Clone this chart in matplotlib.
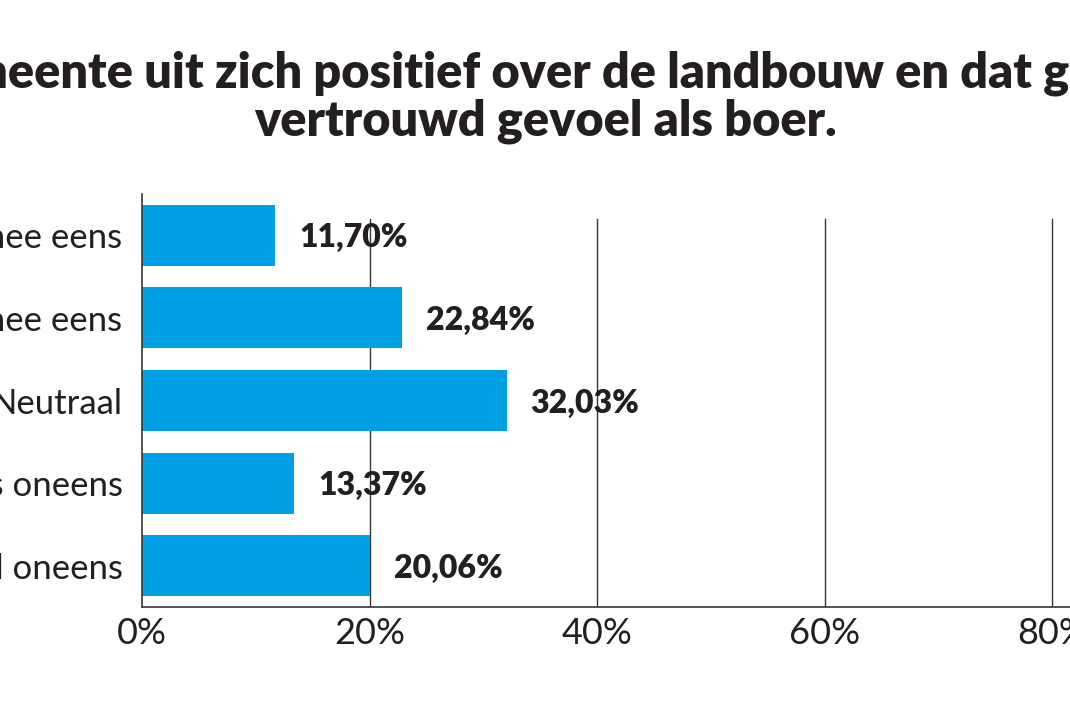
import matplotlib
matplotlib.use("Agg")
import matplotlib.pyplot as plt

# data (top to bottom)
categories = ["Helemaal mee eens", "Enigszins mee eens", "Neutraal",
              "Enigszins oneens", "Helemaal oneens"]
values = [11.70, 22.84, 32.03, 13.37, 20.06]
xticks = [0, 20, 40, 60, 80, 100]
title = ("De gemeente uit zich positief over de landbouw en dat geeft een\n"
         "vertrouwd gevoel als boer.")

TXT = "#231f20"
BAR = "#00a1e4"
LINE = "#3b3533"

fig = plt.figure(figsize=(10.70, 7.13), dpi=100)
# axes run off the right edge of the canvas, as in the cropped original
ax = fig.add_axes([142 / 1070, 106 / 713, 1138 / 1070, 413 / 713])

y = list(range(len(categories)))
ax.barh(y, values, height=0.74, color=BAR, zorder=2)

for xt in xticks[1:]:
    ax.axvline(xt, ymin=0, ymax=0.94, color=LINE, lw=1.0, zorder=1)

for yi, v in zip(y, values):
    ax.text(v + 2.1, yi + 0.03, f"{v:.2f}%".replace(".", ","),
            va="center", ha="left", fontsize=23, fontweight="heavy",
            family="Lato", color=TXT, zorder=3)

ax.set_xlim(0, 100)
ax.set_ylim(len(categories) - 0.5, -0.5)
ax.set_yticks(y)
ax.set_yticklabels(categories, fontsize=25, family="Lato", color=TXT)
ax.set_xticks(xticks)
ax.set_xticklabels([f"{t}%" for t in xticks], fontsize=26, family="Lato", color=TXT)
ax.tick_params(axis="both", length=0)
ax.tick_params(axis="y", pad=14)
ax.tick_params(axis="x", pad=7)

for s in ["top", "right"]:
    ax.spines[s].set_visible(False)
for s in ["left", "bottom"]:
    ax.spines[s].set_color(LINE)
    ax.spines[s].set_linewidth(1.2)

fig.text(545 / 1070, 1 - 50 / 713, title, ha="center", va="top",
         fontsize=35, fontweight="heavy", family="Lato", color=TXT,
         linespacing=1.08)

fig.savefig("out.png", dpi=100, facecolor="white")
